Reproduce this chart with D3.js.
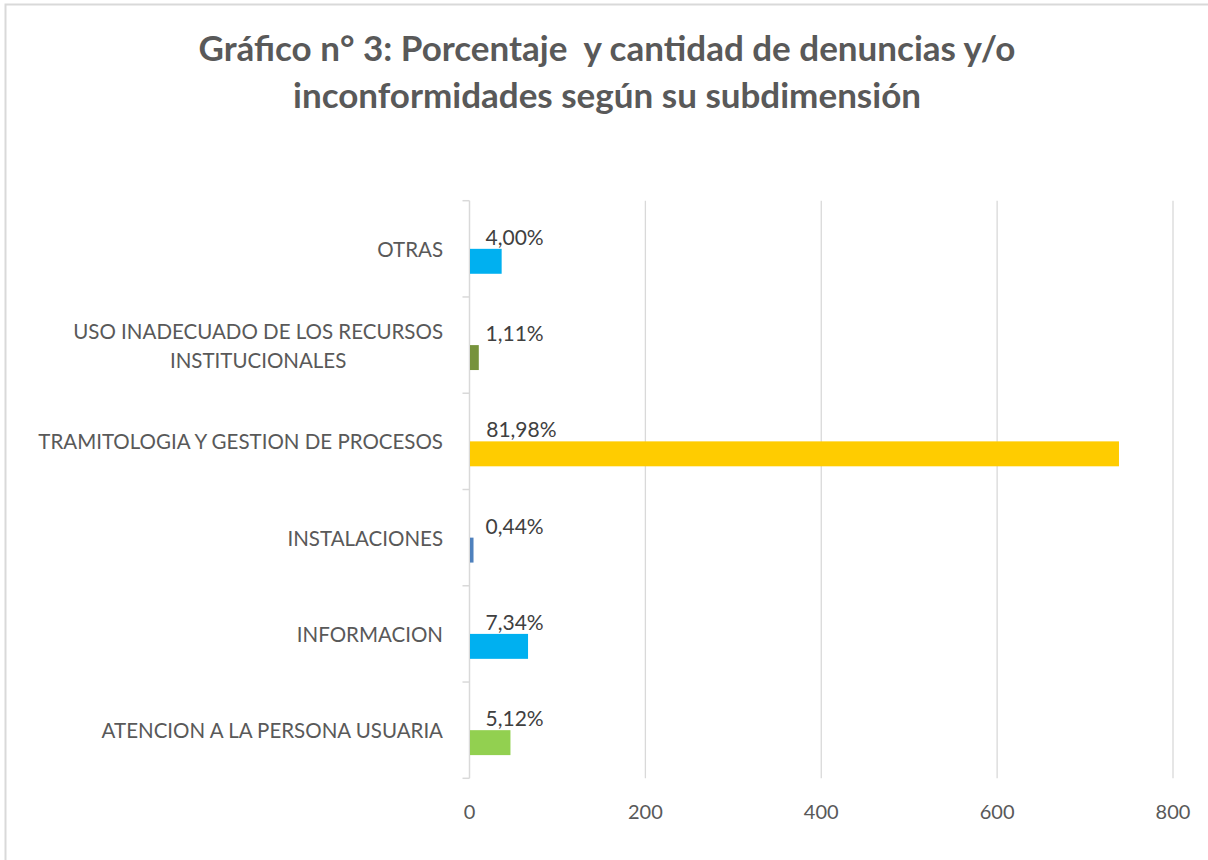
<!DOCTYPE html>
<html>
<head>
<meta charset="utf-8">
<script src="https://cdn.jsdelivr.net/npm/d3@7"></script>
<style>
  body { margin: 0; background: #fff; }
  svg { display: block; font-family: Lato, "Open Sans", sans-serif; }
</style>
</head>
<body>
<div id="canvas"></div>
<script>
// data, in Excel order (first category drawn at the bottom)
const categories = [
  "ATENCION A LA PERSONA USUARIA",
  "INFORMACION",
  "INSTALACIONES",
  "TRAMITOLOGIA Y GESTION DE PROCESOS",
  "USO INADECUADO DE LOS RECURSOS INSTITUCIONALES",
  "OTRAS"
];
const catLines = [
  ["ATENCION A LA PERSONA USUARIA"],
  ["INFORMACION"],
  ["INSTALACIONES"],
  ["TRAMITOLOGIA Y GESTION DE PROCESOS"],
  ["USO INADECUADO DE LOS RECURSOS", "INSTITUCIONALES"],
  ["OTRAS"]
];
const cantidad = [46, 66, 4, 738, 10, 36];
const porcentaje = [0.0512, 0.0734, 0.0044, 0.8198, 0.0111, 0.04];
const pctLabels = ["5,12%", "7,34%", "0,44%", "81,98%", "1,11%", "4,00%"];
const barColors = ["#92D050", "#00B0F0", "#4F81BD", "#FFCC00", "#77933C", "#00B0F0"];
const xTicks = [0, 200, 400, 600, 800];

const width = 1208, height = 860;
const plot = { left: 469.5, right: 1173, top: 200.7, bottom: 778.3 };

const svg = d3.select("#canvas").append("svg")
  .attr("width", width).attr("height", height);

// chart border
svg.append("rect")
  .attr("x", 5.5).attr("y", 4.5)
  .attr("width", 1220).attr("height", 880)
  .attr("fill", "none").attr("stroke", "#d9d9d9").attr("stroke-width", 2);

// title
const title = svg.append("text")
  .attr("text-anchor", "middle")
  .attr("fill", "#595959")
  .attr("font-weight", "bold")
  .attr("font-size", 35)
  .style("white-space", "pre");
title.append("tspan").attr("x", 607).attr("y", 61).text("Gráfico n° 3: Porcentaje  y cantidad de denuncias y/o");
title.append("tspan").attr("x", 607).attr("y", 108).text("inconformidades según su subdimensión");

const x = d3.scaleLinear().domain([0, 800]).range([plot.left, plot.right]);
const y = d3.scaleBand()
  .domain(categories.slice().reverse())
  .range([plot.top, plot.bottom]);
const sub = d3.scaleBand()
  .domain(["pct", "cant"])
  .range([0, y.bandwidth()])
  .paddingOuter(0.93);

// gridlines
svg.append("g").selectAll("line")
  .data(xTicks.slice(1))
  .join("line")
  .attr("x1", d => x(d)).attr("x2", d => x(d))
  .attr("y1", plot.top).attr("y2", plot.bottom)
  .attr("stroke", "#d9d9d9").attr("stroke-width", 1.3);

// x tick labels
svg.append("g").selectAll("text")
  .data(xTicks)
  .join("text")
  .attr("x", d => x(d)).attr("y", 811)
  .attr("text-anchor", "middle")
  .attr("dominant-baseline", "central")
  .attr("fill", "#595959")
  .attr("font-size", 20)
  .text(d => d);

// category axis
const yAxis = svg.append("g");
yAxis.append("line")
  .attr("x1", x(0)).attr("x2", x(0))
  .attr("y1", plot.top).attr("y2", plot.bottom)
  .attr("stroke", "#d9d9d9").attr("stroke-width", 1.5);
const bounds = y.domain().map(d => y(d)).concat([plot.bottom]);
yAxis.selectAll("line.tick")
  .data(bounds)
  .join("line")
  .attr("class", "tick")
  .attr("x1", x(0) - 7).attr("x2", x(0))
  .attr("y1", d => d).attr("y2", d => d)
  .attr("stroke", "#d9d9d9").attr("stroke-width", 1.5);

// category labels (multi-line ones centered in their block)
const labelRight = 443;
categories.forEach((c, i) => {
  const lines = catLines[i];
  const g = svg.append("g");
  const cy = y(c) + y.bandwidth() / 2;
  const lh = 29;
  const t = lines.map((ln, j) => g.append("text")
    .attr("y", cy + (j - (lines.length - 1) / 2) * lh)
    .attr("dominant-baseline", "central")
    .attr("text-anchor", "middle")
    .attr("fill", "#595959")
    .attr("font-size", 20.5)
    .text(ln));
  const w = d3.max(t, s => s.node().getComputedTextLength());
  t.forEach(s => s.attr("x", labelRight - w / 2));
});

// bars (cantidad series)
svg.append("g").selectAll("rect")
  .data(categories)
  .join("rect")
  .attr("x", x(0) + 0.5)
  .attr("y", d => y(d) + sub("cant"))
  .attr("height", sub.bandwidth())
  .attr("width", (d, i) => x(cantidad[i]) - x(0))
  .attr("fill", (d, i) => barColors[i]);

// percentage labels (on the near-zero porcentaje series)
svg.append("g").selectAll("text")
  .data(categories)
  .join("text")
  .attr("x", (d, i) => x(porcentaje[i]) + 16)
  .attr("y", d => y(d) + sub("pct") + sub.bandwidth() / 2)
  .attr("dominant-baseline", "central")
  .attr("fill", "#404040")
  .attr("font-size", 21)
  .text((d, i) => pctLabels[i]);
</script>
</body>
</html>
